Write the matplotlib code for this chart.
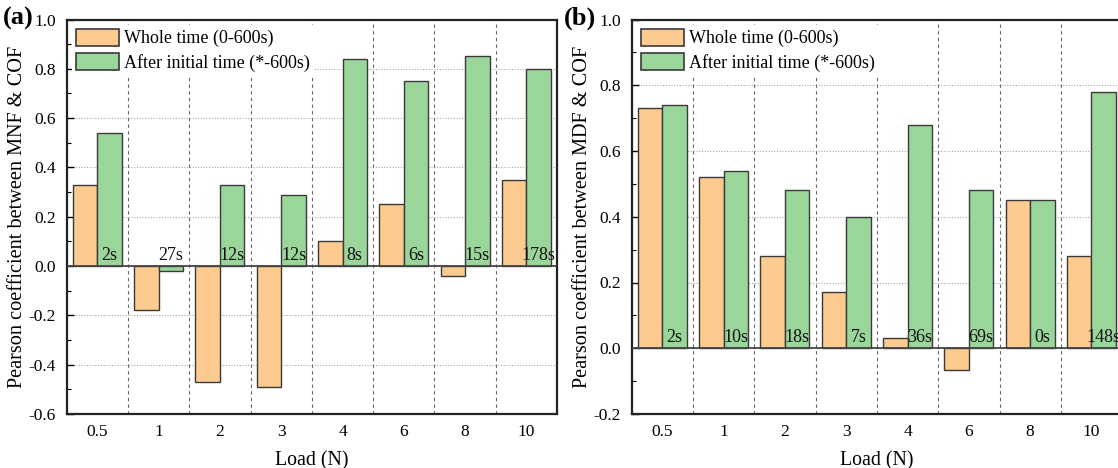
import numpy as np
import matplotlib
matplotlib.use("Agg")
import matplotlib.pyplot as plt
from matplotlib.ticker import MultipleLocator, FormatStrFormatter

loads = ["0.5", "1", "2", "3", "4", "6", "8", "10"]

# panel (a): MNF vs COF
mnf_whole = [0.33, -0.18, -0.47, -0.49, 0.10, 0.25, -0.04, 0.35]
mnf_after = [0.54, -0.02, 0.33, 0.29, 0.84, 0.75, 0.85, 0.80]
mnf_times = ["2s", "27s", "12s", "12s", "8s", "6s", "15s", "178s"]

# panel (b): MDF vs COF
mdf_whole = [0.73, 0.52, 0.28, 0.17, 0.03, -0.065, 0.45, 0.28]
mdf_after = [0.74, 0.54, 0.48, 0.40, 0.68, 0.48, 0.45, 0.78]
mdf_times = ["2s", "10s", "18s", "7s", "36s", "69s", "0s", "148s"]

series_names = ["Whole time (0-600s)", "After initial time (*-600s)"]

plt.rcParams['font.family'] = ['Liberation Serif', 'DejaVu Serif']

c_whole = '#FDCB8F'
c_after = '#9AD59A'
edge = '#3a3a3a'


def draw_panel(ax, whole, after, times, ylim, ylabel):
    x = np.arange(len(loads))
    w = 0.4
    ax.bar(x - 0.2, whole, w, color=c_whole, edgecolor=edge, linewidth=1.0,
           label=series_names[0], zorder=3)
    ax.bar(x + 0.2, after, w, color=c_after, edgecolor=edge, linewidth=1.0,
           label=series_names[1], zorder=3)
    for xi, t in zip(x, times):
        ax.text(xi + 0.2, 0.008, t, ha='center', va='bottom', fontsize=13,
                color='#111111', zorder=4)
    ax.axhline(0, color='#444444', lw=1.3, zorder=4)

    ax.set_xlim(-0.5, len(loads) - 0.5)
    ax.set_ylim(*ylim)
    ax.set_xticks(x)
    ax.set_xticklabels(loads)
    ax.yaxis.set_major_locator(MultipleLocator(0.2))
    ax.yaxis.set_minor_locator(MultipleLocator(0.1))
    ax.yaxis.set_major_formatter(FormatStrFormatter('%.1f'))
    ax.tick_params(axis='y', which='major', direction='in', length=5, width=1.0,
                   pad=8, labelsize=12.5)
    ax.tick_params(axis='y', which='minor', direction='in', length=3, width=0.8)
    ax.tick_params(axis='x', length=0, pad=7, labelsize=12.5)

    # grid
    for yv in np.arange(ylim[0] + 0.2, ylim[1] - 0.01, 0.2):
        if abs(yv) > 1e-6:
            ax.axhline(yv, color='#aaaaaa', lw=0.8, ls=(0, (1, 1.5)), zorder=1)
    for xb in np.arange(0.5, len(loads) - 0.5, 1.0):
        ax.axvline(xb, color='#666666', lw=0.8, ls=(0, (3, 3)), zorder=1)

    for s in ax.spines.values():
        s.set_linewidth(1.6)
        s.set_color('#222222')

    ax.set_xlabel('Load (N)', fontsize=14.3, labelpad=8)
    ax.set_ylabel(ylabel, fontsize=14.6, labelpad=1)

    leg = ax.legend(loc='upper left', bbox_to_anchor=(0.0, 1.0), fontsize=13,
                    frameon=True, fancybox=False, framealpha=1, edgecolor='none',
                    facecolor='white', handlelength=2.4, handleheight=1.1,
                    handletextpad=0.3, labelspacing=0.3, borderpad=0.2,
                    borderaxespad=0.3)
    leg.set_zorder(5)
    for p in leg.get_patches():
        p.set_linewidth(1.2)


fig = plt.figure(figsize=(11.18, 4.68), dpi=100)
W, H = 1118., 468.
ax1 = fig.add_axes([66.7 / W, 1 - 414 / H, 490.4 / W, (414 - 19.5) / H])
ax2 = fig.add_axes([631.7 / W, 1 - 414 / H, 490.4 / W, (414 - 19.5) / H])

draw_panel(ax1, mnf_whole, mnf_after, mnf_times, (-0.6, 1.0),
           'Pearson coefficient between MNF & COF')
draw_panel(ax2, mdf_whole, mdf_after, mdf_times, (-0.2, 1.0),
           'Pearson coefficient between MDF & COF')

fig.text(3 / W, 1 - 18 / H, '(a)', fontsize=19, fontweight='bold', va='center', ha='left')
fig.text(564 / W, 1 - 18 / H, '(b)', fontsize=19, fontweight='bold', va='center', ha='left')

fig.savefig('out.png', dpi=100)
